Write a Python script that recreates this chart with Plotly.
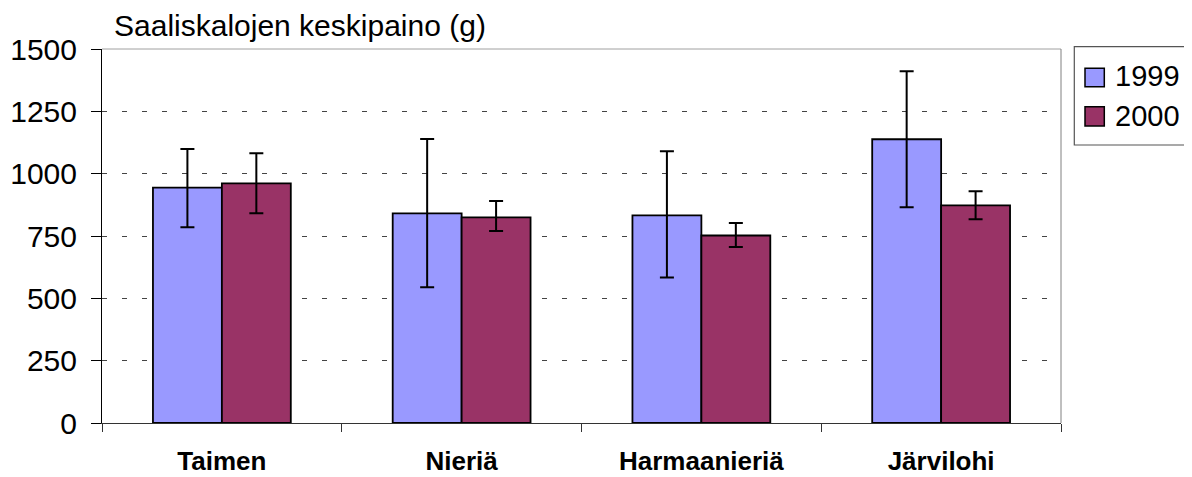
import plotly.graph_objects as go

categories = ["Taimen", "Nieriä", "Harmaanieriä", "Järvilohi"]
series_names = ["1999", "2000"]
values_1999 = [944, 841, 833, 1138]
values_2000 = [961, 825, 752, 873]
err_plus_1999 = [155, 298, 257, 273]
err_minus_1999 = [159, 297, 249, 273]
err_plus_2000 = [121, 65, 50, 56]
err_minus_2000 = [120, 55, 46, 56]
y_ticks = [0, 250, 500, 750, 1000, 1250, 1500]
colors = ["#9999FF", "#993366"]

FONT = "Liberation Sans, Arial, sans-serif"

# figure is offset by the 8px default body margin of the page
W, H = 1184, 469
ML, MR, MT, MB = 94, 131, 41, 54
PW, PH = W - ML - MR, H - MT - MB


def px_x(x):
    return (x - ML) / PW


def px_y(y):
    return (H - MB - y) / PH


fig = go.Figure()
for name, vals, ep, em, col in [
    (series_names[0], values_1999, err_plus_1999, err_minus_1999, colors[0]),
    (series_names[1], values_2000, err_plus_2000, err_minus_2000, colors[1]),
]:
    fig.add_trace(go.Bar(
        x=categories, y=vals, name=name, showlegend=False,
        marker=dict(color=col, line=dict(color="black", width=1.8)),
        error_y=dict(type="data", symmetric=False, array=ep, arrayminus=em,
                     color="black", thickness=2, width=7),
    ))

shapes = [
    dict(type="line", xref="paper", yref="paper", x0=0, x1=1, y0=1, y1=1,
         layer="below", line=dict(color="#a0a0a0", width=1)),
    dict(type="line", xref="paper", yref="paper", x0=1, x1=1, y0=0, y1=1,
         line=dict(color="#808080", width=1)),
    # legend box
    dict(type="rect", xref="paper", yref="paper",
         x0=px_x(1066.3), x1=px_x(1250), y0=px_y(38.7), y1=px_y(137),
         line=dict(color="#555", width=1.2), fillcolor="white"),
]
annotations = [dict(text="Saaliskalojen keskipaino (g)", xref="paper", yref="paper",
                    x=px_x(104), y=px_y(18), xanchor="left", yanchor="middle",
                    showarrow=False, font=dict(size=30, family=FONT))]

leg_sq_y = [(60.3, 78.7), (98.7, 118.0)]
leg_txt_y = [68, 107.5]
for i, name in enumerate(series_names):
    shapes.append(dict(type="rect", xref="paper", yref="paper",
                       x0=px_x(1077), x1=px_x(1096.3),
                       y0=px_y(leg_sq_y[i][0]), y1=px_y(leg_sq_y[i][1]),
                       line=dict(color="black", width=1.5), fillcolor=colors[i]))
    annotations.append(dict(text=name, xref="paper", yref="paper",
                            x=px_x(1105), y=px_y(leg_txt_y[i]),
                            xanchor="left", yanchor="middle", showarrow=False,
                            font=dict(size=29, family=FONT)))

fig.update_layout(
    width=W, height=H,
    margin=dict(l=ML, r=MR, t=MT, b=MB, autoexpand=False),
    paper_bgcolor="white", plot_bgcolor="white",
    barmode="group", bargap=0.425, bargroupgap=0,
    font=dict(family=FONT, color="black", size=29),
    showlegend=False,
    shapes=shapes, annotations=annotations,
)
fig.update_yaxes(range=[0, 1500], tickvals=y_ticks, ticks="outside", ticklen=10,
                 tickcolor="black", showline=True, linecolor="black", linewidth=1,
                 showgrid=True, gridcolor="#444", griddash="5px,15px", gridwidth=1,
                 zeroline=False, tickfont=dict(size=30), ticklabelstandoff=8,
                 fixedrange=True)
fig.update_xaxes(showline=True, linecolor="#333", linewidth=1, ticks="outside",
                 tickson="boundaries", ticklen=8, tickcolor="#333",
                 tickfont=dict(size=26, family=FONT, weight="bold"),
                 ticklabelstandoff=15, fixedrange=True)

fig.write_html("out.html", config={"displayModeBar": False})
